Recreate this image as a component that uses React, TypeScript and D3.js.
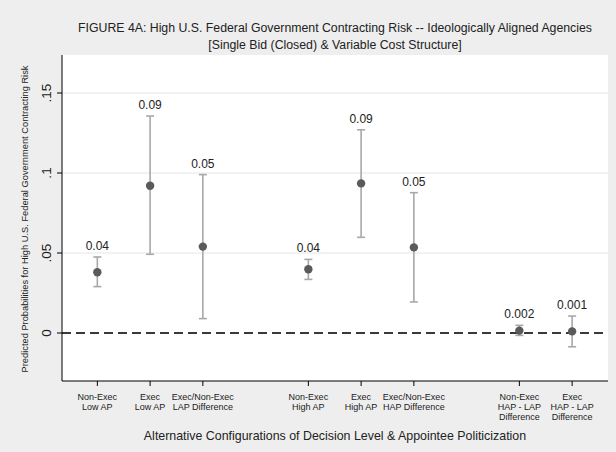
import * as d3 from "d3";
import { useEffect } from "react";

const width = 616;
const height = 452;
const plot = { left: 62, right: 608, top: 55, bottom: 381 };
const font = "'Liberation Sans', Arial, sans-serif";

// category labels (one array per line), positions on the x axis
const categories = [
  ["Non-Exec", "Low AP"],
  ["Exec", "Low AP"],
  ["Exec/Non-Exec", "LAP Difference"],
  ["Non-Exec", "High AP"],
  ["Exec", "High AP"],
  ["Exec/Non-Exec", "HAP Difference"],
  ["Non-Exec", "HAP - LAP", "Difference"],
  ["Exec", "HAP - LAP", "Difference"],
];
const positions = [1, 2, 3, 5, 6, 7, 9, 10];
const estimates = [0.038, 0.092, 0.054, 0.0398, 0.0935, 0.0535, 0.0015, 0.001];
const lower = [0.029, 0.0492, 0.009, 0.0335, 0.0598, 0.0194, -0.0015, -0.0086];
const upper = [0.0475, 0.1356, 0.099, 0.046, 0.127, 0.0877, 0.0048, 0.0106];
const valueLabels = ["0.04", "0.09", "0.05", "0.04", "0.09", "0.05", "0.002", "0.001"];
const yTicks = [0, 0.05, 0.1, 0.15];
const yTickLabels = ["0", ".05", ".1", ".15"];

export default function App() {
  useEffect(() => {
    document.body.style.margin = "0";
  }, []);

  const x = d3.scaleLinear().domain([0.33, 10.68]).range([plot.left, plot.right]);
  const y = d3.scaleLinear().domain([-0.03, 0.17375]).range([plot.bottom, plot.top]);
  const I = d3.range(estimates.length);
  const cap = 4;
  const midX = (plot.left + plot.right) / 2;

  return (
    <svg width={width} height={height} style={{ display: "block" }} fontFamily={font}>
      <rect width={width} height={height} fill="#eeeeee" />
      <rect
        x={plot.left}
        y={plot.top}
        width={plot.right - plot.left}
        height={plot.bottom - plot.top}
        fill="#ffffff"
      />

      {/* gridlines */}
      {yTicks.filter((t) => t !== 0).map((t) => (
        <line key={t} x1={plot.left} x2={plot.right} y1={y(t)} y2={y(t)} stroke="#e6e6e6" strokeWidth={1} />
      ))}
      <line
        x1={plot.left}
        x2={plot.right}
        y1={y(0)}
        y2={y(0)}
        stroke="#3a3a3a"
        strokeWidth={2}
        strokeDasharray="9,5"
      />

      {/* error bars */}
      {I.map((i) => (
        <g key={i} stroke="#a8a8a8" strokeWidth={1.6}>
          <line x1={x(positions[i])} x2={x(positions[i])} y1={y(lower[i])} y2={y(upper[i])} />
          <line x1={x(positions[i]) - cap} x2={x(positions[i]) + cap} y1={y(lower[i])} y2={y(lower[i])} />
          <line x1={x(positions[i]) - cap} x2={x(positions[i]) + cap} y1={y(upper[i])} y2={y(upper[i])} />
        </g>
      ))}
      {I.map((i) => (
        <circle key={i} cx={x(positions[i])} cy={y(estimates[i])} r={4.2} fill="#5a5a5a" />
      ))}
      {I.map((i) => (
        <text
          key={i}
          x={x(positions[i])}
          y={y(upper[i]) - 7}
          textAnchor="middle"
          fontSize={12}
          fill="#222"
        >
          {valueLabels[i]}
        </text>
      ))}

      {/* axes */}
      <line x1={plot.left} x2={plot.left} y1={plot.top} y2={plot.bottom} stroke="#000" strokeWidth={1} />
      <line x1={plot.left} x2={plot.right} y1={plot.bottom} y2={plot.bottom} stroke="#000" strokeWidth={1} />
      {yTicks.map((t, k) => (
        <g key={t}>
          <line x1={plot.left - 5} x2={plot.left} y1={y(t)} y2={y(t)} stroke="#000" />
          <text
            transform={`translate(${plot.left - 11},${y(t)}) rotate(-90)`}
            textAnchor="middle"
            fontSize={13.5}
            fill="#222"
          >
            {yTickLabels[k]}
          </text>
        </g>
      ))}
      {I.map((i) => (
        <g key={i} transform={`translate(${x(positions[i])},${plot.bottom})`}>
          <line y1={0} y2={5} stroke="#000" />
          {categories[i].map((line, j) => (
            <text key={j} y={19 + j * 10} textAnchor="middle" fontSize={9} fill="#222">
              {line}
            </text>
          ))}
        </g>
      ))}

      <text
        transform={`translate(27.5,${(plot.top + plot.bottom) / 2 + 1}) rotate(-90)`}
        textAnchor="middle"
        fontSize={9.3}
        fill="#222"
      >
        Predicted Probabilities for High U.S. Federal Government Contracting Risk
      </text>
      <text x={midX} y={440} textAnchor="middle" fontSize={12.4} fill="#222">
        Alternative Configurations of Decision Level &amp; Appointee Politicization
      </text>
      <text x={midX} y={32} textAnchor="middle" fontSize={12.3} fill="#222">
        FIGURE 4A: High U.S. Federal Government Contracting Risk -- Ideologically Aligned Agencies
      </text>
      <text x={midX} y={49} textAnchor="middle" fontSize={12.3} fill="#222">
        [Single Bid (Closed) &amp; Variable Cost Structure]
      </text>
    </svg>
  );
}
